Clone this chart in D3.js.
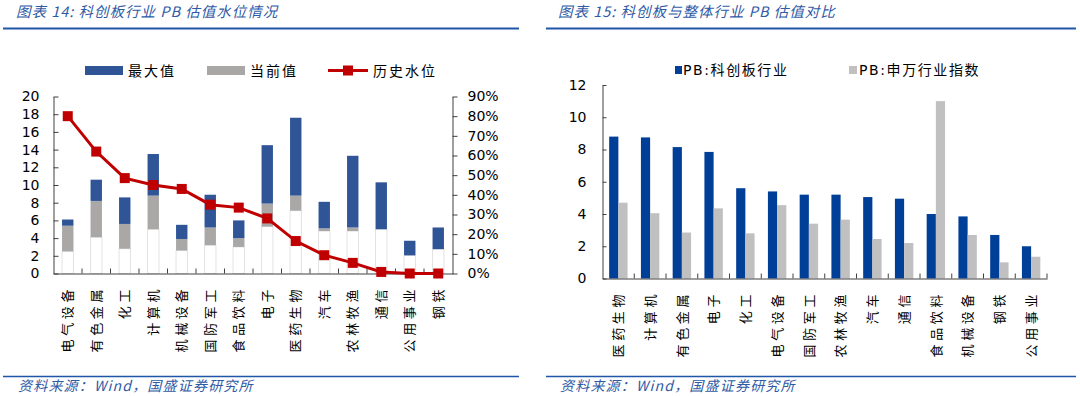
<!DOCTYPE html>
<html>
<head>
<meta charset="utf-8">
<script src="https://cdn.jsdelivr.net/npm/d3@7"></script>
<style>
  body { margin: 0; background: #fff; }
  svg { display: block; }
  .tick text { font-family: "DejaVu Sans", Verdana, sans-serif; font-size: 14px; fill: #000; }
  .cjk { font-family: "Noto Sans CJK SC", sans-serif; }
  .mix { font-family: "DejaVu Sans", "Noto Sans CJK SC", sans-serif; }
</style>
</head>
<body>
<svg id="svg" width="1080" height="396"></svg>
<script>
// 图表14 data
const cats1 = ['电气设备', '有色金属', '化工', '计算机', '机械设备', '国防军工', '食品饮料', '电子', '医药生物', '汽车', '农林牧渔', '通信', '公用事业', '钢铁'];
const minVals = [2.5, 4.1, 2.8, 5.0, 2.6, 3.2, 3.0, 5.3, 7.1, 4.8, 4.8, 5.0, 2.05, 2.75];
const curVals = [5.4, 8.2, 5.6, 8.8, 3.9, 5.2, 4.0, 7.9, 8.8, 5.1, 5.2, 5.0, 2.05, 2.75];
const maxVals = [6.1, 10.6, 8.6, 13.5, 5.5, 8.9, 6.0, 14.5, 17.6, 8.1, 13.3, 10.3, 3.7, 5.2];
const histPct = [0.80, 0.62, 0.485, 0.45, 0.43, 0.35, 0.335, 0.28, 0.165, 0.093, 0.054, 0.008, 0, 0];
const leftTicks = [0, 2, 4, 6, 8, 10, 12, 14, 16, 18, 20];
const pctTicks = [0, 0.1, 0.2, 0.3, 0.4, 0.5, 0.6, 0.7, 0.8, 0.9];

// 图表15 data
const cats2 = ['医药生物', '计算机', '有色金属', '电子', '化工', '电气设备', '国防军工', '农林牧渔', '汽车', '通信', '食品饮料', '机械设备', '钢铁', '公用事业'];
const pbKcb = [8.8, 8.75, 8.15, 7.85, 5.6, 5.4, 5.2, 5.2, 5.05, 4.95, 4.0, 3.85, 2.7, 2.0];
const pbSw = [4.7, 4.05, 2.85, 4.35, 2.8, 4.55, 3.4, 3.65, 2.45, 2.2, 11.0, 2.7, 1.0, 1.35];
const rightTicks = [0, 2, 4, 6, 8, 10, 12];

const svg = d3.select('#svg');
const titleBlue = '#2f5aa6';
const lineBlue = '#1f56a8';
const axisColor = '#404040';

// headers and footers
function frame(x0, x1, tx, title) {
    svg.append('text')
        .attr('class', 'cjk')
        .attr('x', tx).attr('y', 17)
        .attr('font-size', 14.5)
        .attr('font-style', 'italic')
        .attr('letter-spacing', 1)
        .attr('fill', titleBlue)
        .text(title);
    svg.append('line')
        .attr('x1', x0).attr('x2', x1).attr('y1', 28.5).attr('y2', 28.5)
        .attr('stroke', lineBlue).attr('stroke-width', 2);
    svg.append('line')
        .attr('x1', x0).attr('x2', x1).attr('y1', 376.5).attr('y2', 376.5)
        .attr('stroke', lineBlue).attr('stroke-width', 1.5);
    svg.append('text')
        .attr('class', 'cjk')
        .attr('x', tx + 2).attr('y', 391)
        .attr('font-size', 14)
        .attr('font-style', 'italic')
        .attr('letter-spacing', 1.2)
        .attr('fill', titleBlue)
        .text('资料来源：Wind，国盛证券研究所');
}
frame(3, 519, 16, '图表 14:  科创板行业 PB 估值水位情况');
frame(546, 1076, 558, '图表 15:  科创板与整体行业 PB 估值对比');

function xLabels(g, x, cats, topY) {
    g.selectAll('.xl')
        .data(cats)
        .enter().append('text')
        .attr('class', 'cjk xl')
        .attr('transform', d => 'translate(' + (x(d) + x.bandwidth() / 2) + ',' + topY + ') rotate(-90)')
        .attr('text-anchor', 'end')
        .attr('dy', '0.36em')
        .attr('font-size', 13)
        .attr('letter-spacing', 3.6)
        .attr('fill', '#000')
        .text(d => d);
}

function boundaryTicks(g, x, cats, y0) {
    g.selectAll('.bt')
        .data(cats.slice(1))
        .enter().append('line')
        .attr('x1', d => x(d)).attr('x2', d => x(d))
        .attr('y1', y0).attr('y2', y0 - 5)
        .attr('stroke', axisColor);
}

// ---------- Chart 14 ----------
{
    const g = svg.append('g');
    const x = d3.scaleBand().domain(cats1).range([53.5, 452.5]);
    const y = d3.scaleLinear().domain([0, 20]).range([273.5, 96.5]);
    const y2 = d3.scaleLinear().domain([0, 0.9]).range([273.5, 96.5]);
    const bw = x.bandwidth() * 0.4;
    const bx = d => x(d) + (x.bandwidth() - bw) / 2;

    // white base (min)
    g.selectAll('.minbar').data(cats1).enter().append('rect')
        .attr('x', bx).attr('width', bw)
        .attr('y', (d, i) => y(minVals[i]))
        .attr('height', (d, i) => y(0) - y(minVals[i]))
        .attr('fill', '#fff').attr('stroke', '#e2e2e2').attr('stroke-width', 1);
    // gray (current)
    g.selectAll('.curbar').data(cats1).enter().append('rect')
        .attr('x', bx).attr('width', bw)
        .attr('y', (d, i) => y(curVals[i]))
        .attr('height', (d, i) => y(minVals[i]) - y(curVals[i]))
        .attr('fill', '#aaa7a7');
    // blue (max)
    g.selectAll('.maxbar').data(cats1).enter().append('rect')
        .attr('x', bx).attr('width', bw)
        .attr('y', (d, i) => y(maxVals[i]))
        .attr('height', (d, i) => y(curVals[i]) - y(maxVals[i]))
        .attr('fill', '#2f5597');

    // axes
    g.append('g').attr('transform', 'translate(53.5,0)')
        .call(d3.axisLeft(y).tickValues(leftTicks).tickSizeInner(-5).tickSizeOuter(0).tickPadding(14))
        .call(a => a.selectAll('line,path').attr('stroke', axisColor));
    g.append('g').attr('transform', 'translate(452.5,0)')
        .call(d3.axisRight(y2).tickValues(pctTicks).tickSizeInner(5).tickSizeOuter(0).tickPadding(10)
            .tickFormat(d3.format('.0%')))
        .call(a => a.selectAll('line,path').attr('stroke', axisColor));
    g.append('g').attr('transform', 'translate(0,273.5)')
        .call(d3.axisBottom(x).tickSize(0).tickFormat(''))
        .call(a => a.select('path').attr('stroke', axisColor));
    boundaryTicks(g, x, cats1, 273.5);

    // line + markers
    const cx = d => x(d) + x.bandwidth() / 2;
    g.append('path')
        .datum(cats1)
        .attr('d', d3.line().x(cx).y((d, i) => y2(histPct[i])))
        .attr('fill', 'none').attr('stroke', '#c00000').attr('stroke-width', 3);
    g.selectAll('.mk').data(cats1).enter().append('rect')
        .attr('x', d => cx(d) - 5).attr('y', (d, i) => y2(histPct[i]) - 5)
        .attr('width', 10).attr('height', 10)
        .attr('fill', '#c00000');

    xLabels(g, x, cats1, 286);

    // legend
    const lg = g.append('g');
    lg.append('rect').attr('x', 85).attr('y', 66).attr('width', 38).attr('height', 9).attr('fill', '#2f5597');
    lg.append('text').attr('class', 'cjk').attr('x', 128).attr('y', 71).attr('dy', '0.35em')
        .attr('font-size', 14).attr('letter-spacing', 2).text('最大值');
    lg.append('rect').attr('x', 207).attr('y', 66).attr('width', 38).attr('height', 9).attr('fill', '#aaa7a7');
    lg.append('text').attr('class', 'cjk').attr('x', 250).attr('y', 71).attr('dy', '0.35em')
        .attr('font-size', 14).attr('letter-spacing', 2).text('当前值');
    lg.append('line').attr('x1', 328).attr('x2', 368).attr('y1', 70.5).attr('y2', 70.5)
        .attr('stroke', '#c00000').attr('stroke-width', 3);
    lg.append('rect').attr('x', 343).attr('y', 65.5).attr('width', 10).attr('height', 10).attr('fill', '#c00000');
    lg.append('text').attr('class', 'cjk').attr('x', 373).attr('y', 71).attr('dy', '0.35em')
        .attr('font-size', 14).attr('letter-spacing', 2).text('历史水位');
}

// ---------- Chart 15 ----------
{
    const g = svg.append('g');
    const x = d3.scaleBand().domain(cats2).range([602.5, 1047]);
    const y = d3.scaleLinear().domain([0, 12]).range([278.5, 85]);
    const inner = d3.scaleBand().domain(['kcb', 'sw']).range([0, x.bandwidth() * 0.58]);
    const off = (x.bandwidth() - x.bandwidth() * 0.58) / 2;

    g.selectAll('.kcb').data(cats2).enter().append('rect')
        .attr('x', d => x(d) + off + inner('kcb')).attr('width', inner.bandwidth())
        .attr('y', (d, i) => y(pbKcb[i])).attr('height', (d, i) => y(0) - y(pbKcb[i]))
        .attr('fill', '#003f98');
    g.selectAll('.sw').data(cats2).enter().append('rect')
        .attr('x', d => x(d) + off + inner('sw')).attr('width', inner.bandwidth())
        .attr('y', (d, i) => y(pbSw[i])).attr('height', (d, i) => y(0) - y(pbSw[i]))
        .attr('fill', '#c0c0c0');

    g.append('g').attr('transform', 'translate(602.5,0)')
        .call(d3.axisLeft(y).tickValues(rightTicks).tickSizeInner(-4).tickSizeOuter(0).tickPadding(16))
        .call(a => a.selectAll('line,path').attr('stroke', axisColor));
    g.append('g').attr('transform', 'translate(0,278.5)')
        .call(d3.axisBottom(x).tickSize(0).tickFormat(''))
        .call(a => a.select('path').attr('stroke', axisColor));
    boundaryTicks(g, x, cats2, 278.5);
    g.append('line').attr('x1', 1047).attr('x2', 1047).attr('y1', 278.5).attr('y2', 273.5).attr('stroke', axisColor);

    xLabels(g, x, cats2, 291);

    const lg = g.append('g');
    lg.append('rect').attr('x', 675).attr('y', 66).attr('width', 7).attr('height', 8).attr('fill', '#003f98');
    lg.append('text').attr('class', 'mix').attr('x', 683).attr('y', 70).attr('dy', '0.35em')
        .attr('font-size', 14).attr('letter-spacing', 1.6)
        .text('PB:科创板行业');
    lg.append('rect').attr('x', 849).attr('y', 66).attr('width', 8).attr('height', 8).attr('fill', '#c0c0c0');
    lg.append('text').attr('class', 'mix').attr('x', 859).attr('y', 70).attr('dy', '0.35em')
        .attr('font-size', 14).attr('letter-spacing', 1.6)
        .text('PB:申万行业指数');
}
</script>
</body>
</html>
